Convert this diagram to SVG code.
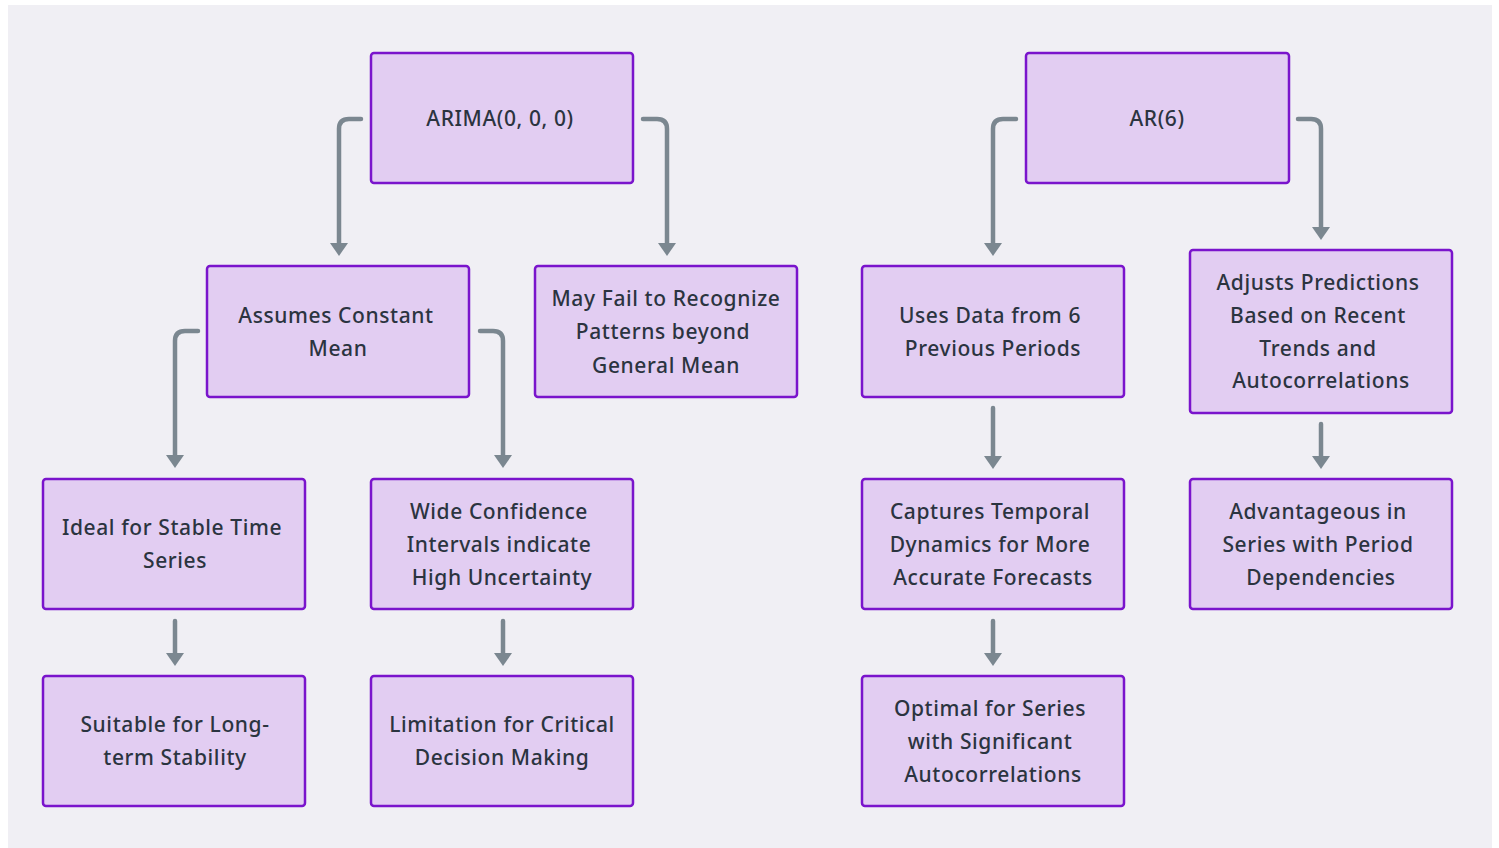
<svg xmlns="http://www.w3.org/2000/svg" width="1499" height="848" viewBox="0 0 1499 848">
<defs>
<style>
.n rect{fill:#E2CDF2;stroke:#7A14CC;stroke-width:2.5}
.n text{font-family:"Noto Sans","DejaVu Sans",sans-serif;font-size:21px;font-weight:500;fill:#2B3440;text-anchor:middle;letter-spacing:0.6px}
.c path{fill:none;stroke:#7B8790;stroke-width:4.5;stroke-linecap:round;stroke-linejoin:round}
</style>
<path id="head" d="M-9,-13 L9,-13 L0,0 Z" fill="#7B8790"/>
</defs>
<rect width="1499" height="848" fill="#FFFFFF"/>
<rect x="8" y="5" width="1484" height="843" fill="#F0EFF4"/>
<g class="c" id="connectors">
<path d="M361,119 H349 Q339,119 339,129 V244"/>
<use href="#head" x="339" y="256"/>
<path d="M643,119 H657 Q667,119 667,129 V244"/>
<use href="#head" x="667" y="256"/>
<path d="M1016,119 H1003 Q993,119 993,129 V244"/>
<use href="#head" x="993" y="256"/>
<path d="M1298,119 H1311 Q1321,119 1321,129 V228"/>
<use href="#head" x="1321" y="240"/>
<path d="M198,331 H185 Q175,331 175,341 V456"/>
<use href="#head" x="175" y="468"/>
<path d="M480,331 H493 Q503,331 503,341 V456"/>
<use href="#head" x="503" y="468"/>
<path d="M175,621 V654"/>
<use href="#head" x="175" y="666"/>
<path d="M503,621 V654"/>
<use href="#head" x="503" y="666"/>
<path d="M993,408 V457"/>
<use href="#head" x="993" y="469"/>
<path d="M993,621 V654"/>
<use href="#head" x="993" y="666"/>
<path d="M1321,424 V457"/>
<use href="#head" x="1321" y="469"/>
</g>
<g class="n" id="arima"><rect x="371" y="53" width="262" height="130" rx="3"/><text x="500" y="126">ARIMA(0, 0, 0)</text></g>
<g class="n" id="ar6"><rect x="1026" y="53" width="263" height="130" rx="3"/><text x="1157" y="126">AR(6)</text></g>
<g class="n" id="assumes"><rect x="207" y="266" width="262" height="131" rx="3"/><text x="336" y="323">Assumes Constant</text><text x="338" y="356">Mean</text></g>
<g class="n" id="mayfail"><rect x="535" y="266" width="262" height="131" rx="3"/><text x="666" y="306">May Fail to Recognize</text><text x="663" y="339">Patterns beyond</text><text x="666" y="373">General Mean</text></g>
<g class="n" id="usesdata"><rect x="862" y="266" width="262" height="131" rx="3"/><text x="990" y="323">Uses Data from 6</text><text x="993" y="356">Previous Periods</text></g>
<g class="n" id="adjusts"><rect x="1190" y="250" width="262" height="163" rx="3"/><text x="1318" y="290">Adjusts Predictions</text><text x="1318" y="323">Based on Recent</text><text x="1318" y="356">Trends and</text><text x="1321" y="388">Autocorrelations</text></g>
<g class="n" id="ideal"><rect x="43" y="479" width="262" height="130" rx="3"/><text x="172" y="535">Ideal for Stable Time</text><text x="175" y="568">Series</text></g>
<g class="n" id="wide"><rect x="371" y="479" width="262" height="130" rx="3"/><text x="499" y="519">Wide Confidence</text><text x="499" y="552">Intervals indicate</text><text x="502" y="585">High Uncertainty</text></g>
<g class="n" id="captures"><rect x="862" y="479" width="262" height="130" rx="3"/><text x="990" y="519">Captures Temporal</text><text x="990" y="552">Dynamics for More</text><text x="993" y="585">Accurate Forecasts</text></g>
<g class="n" id="advantageous"><rect x="1190" y="479" width="262" height="130" rx="3"/><text x="1318" y="519">Advantageous in</text><text x="1318" y="552">Series with Period</text><text x="1321" y="585">Dependencies</text></g>
<g class="n" id="suitable"><rect x="43" y="676" width="262" height="130" rx="3"/><text x="175" y="732">Suitable for Long-</text><text x="175" y="765">term Stability</text></g>
<g class="n" id="limitation"><rect x="371" y="676" width="262" height="130" rx="3"/><text x="502" y="732">Limitation for Critical</text><text x="502" y="765">Decision Making</text></g>
<g class="n" id="optimal"><rect x="862" y="676" width="262" height="130" rx="3"/><text x="990" y="716">Optimal for Series</text><text x="990" y="749">with Significant</text><text x="993" y="782">Autocorrelations</text></g>
</svg>
